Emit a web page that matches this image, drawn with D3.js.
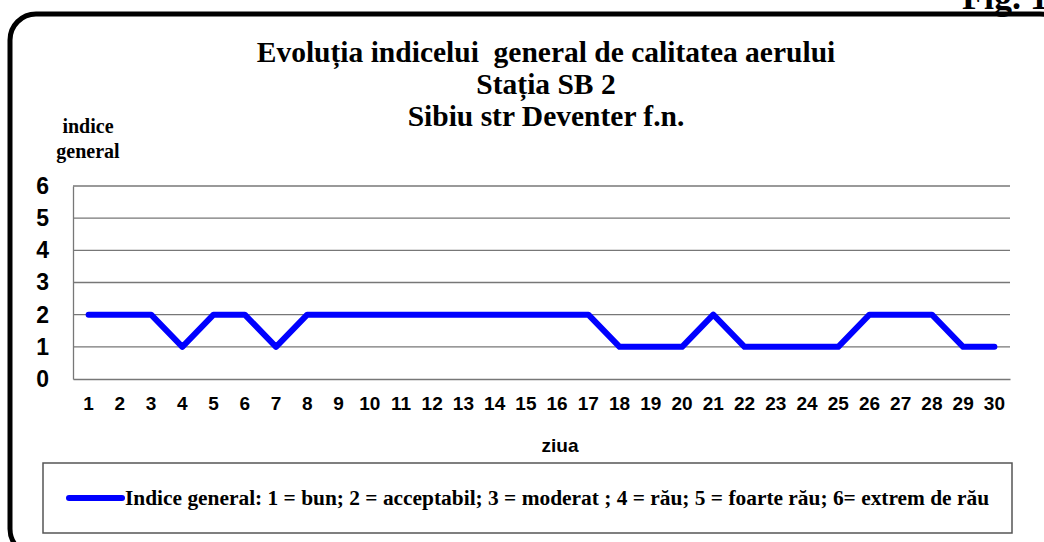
<!DOCTYPE html>
<html>
<head>
<meta charset="utf-8">
<script src="https://cdn.jsdelivr.net/npm/d3@7"></script>
<style>
	body { margin: 0; background: #fff; }
	svg { display: block; }
	.serif { font-family: "Liberation Serif", "Times New Roman", serif; font-weight: bold; fill: #000; }
	.sans { font-family: "Liberation Sans", Arial, sans-serif; font-weight: bold; fill: #000; }
</style>
</head>
<body>
<svg id="chart" width="1044" height="542"></svg>
<script>
'use strict';
// days of the month and the general index per day
const days = d3.range(1, 31);
const indexValues = [2, 2, 2, 1, 2, 2, 1, 2, 2, 2,
	2, 2, 2, 2, 2, 2, 2, 1, 1, 1,
	2, 1, 1, 1, 1, 2, 2, 2, 1, 1];
const yTicks = [0, 1, 2, 3, 4, 5, 6];

const titleLines = ["Evoluția indicelui  general de calitatea aerului", "Stația SB 2", "Sibiu str Deventer f.n."];
const yLabelLines = ["indice", "general"];
const legendText = "Indice general: 1 = bun; 2 = acceptabil; 3 = moderat ; 4 = rău; 5 = foarte rău; 6= extrem de rău";

const svg = d3.select("#chart");

// plot area
const plot = { left: 73, right: 1010, top: 186, bottom: 379 };

const x = d3.scaleBand()
	.domain(days)
	.range([plot.left, plot.right]);

const y = d3.scaleLinear()
	.domain([0, 6])
	.range([plot.bottom, plot.top]);

// outer frame with round corners (runs off the page on the right and bottom)
svg.append("rect")
	.attr("x", 10).attr("y", 14)
	.attr("width", 1056).attr("height", 541)
	.attr("rx", 26).attr("ry", 26)
	.attr("fill", "none")
	.attr("stroke", "#000")
	.attr("stroke-width", 5);

// figure label, cut at the top and right like in the page it came from
svg.append("text")
	.attr("class", "serif")
	.attr("x", 962).attr("y", 9)
	.style("font-size", "36px")
	.text("Fig. 1");

// title
svg.append("g").selectAll("text").data(titleLines).join("text")
	.attr("class", "serif")
	.attr("x", 546)
	.attr("y", (d, i) => 62 + i * 32)
	.attr("text-anchor", "middle")
	.style("font-size", "29.5px")
	.style("white-space", "pre")
	.text(d => d);

// y axis title
svg.append("g").selectAll("text").data(yLabelLines).join("text")
	.attr("class", "serif")
	.attr("x", 88)
	.attr("y", (d, i) => 133 + i * 25)
	.attr("text-anchor", "middle")
	.style("font-size", "20px")
	.text(d => d);

// grid lines
svg.append("g")
	.selectAll("line").data(yTicks.filter(d => d > 0)).join("line")
	.attr("x1", plot.left).attr("x2", plot.right)
	.attr("y1", d => y(d)).attr("y2", d => y(d))
	.attr("stroke", "#777")
	.attr("stroke-width", 1.3);

// axes
const yAxis = svg.append("g")
	.attr("transform", `translate(${plot.left},0)`)
	.call(d3.axisLeft(y).tickValues(yTicks).tickSize(0).tickPadding(24).tickFormat(d3.format("d")));
yAxis.select(".domain").attr("stroke", "#777").attr("stroke-width", 1.3);
yAxis.selectAll("text")
	.attr("class", "sans")
	.style("font-size", "23px");

const xAxis = svg.append("g")
	.attr("transform", `translate(0,${plot.bottom})`)
	.call(d3.axisBottom(x).tickSize(0).tickPadding(18));
xAxis.select(".domain").attr("stroke", "#777").attr("stroke-width", 1.3);
xAxis.selectAll("text")
	.attr("class", "sans")
	.style("font-size", "19px");

svg.append("text")
	.attr("class", "sans")
	.attr("x", 560).attr("y", 452)
	.attr("text-anchor", "middle")
	.style("font-size", "19px")
	.text("ziua");

// the series
const line = d3.line()
	.x((d, i) => x(days[i]) + x.bandwidth() / 2)
	.y(d => y(d));

svg.append("path")
	.datum(indexValues)
	.attr("d", line)
	.attr("fill", "none")
	.attr("stroke", "#0000ff")
	.attr("stroke-width", 6)
	.attr("stroke-linejoin", "round")
	.attr("stroke-linecap", "round");

// legend
const legend = svg.append("g");
legend.append("rect")
	.attr("x", 43).attr("y", 463)
	.attr("width", 969).attr("height", 70)
	.attr("fill", "#fff")
	.attr("stroke", "#555")
	.attr("stroke-width", 1.5);
legend.append("line")
	.attr("x1", 69).attr("x2", 122)
	.attr("y1", 498).attr("y2", 498)
	.attr("stroke", "#0000ff")
	.attr("stroke-width", 6)
	.attr("stroke-linecap", "round");
legend.append("text")
	.attr("class", "serif")
	.attr("x", 125).attr("y", 505)
	.style("font-size", "21.4px")
	.text(legendText);
</script>
</body>
</html>
